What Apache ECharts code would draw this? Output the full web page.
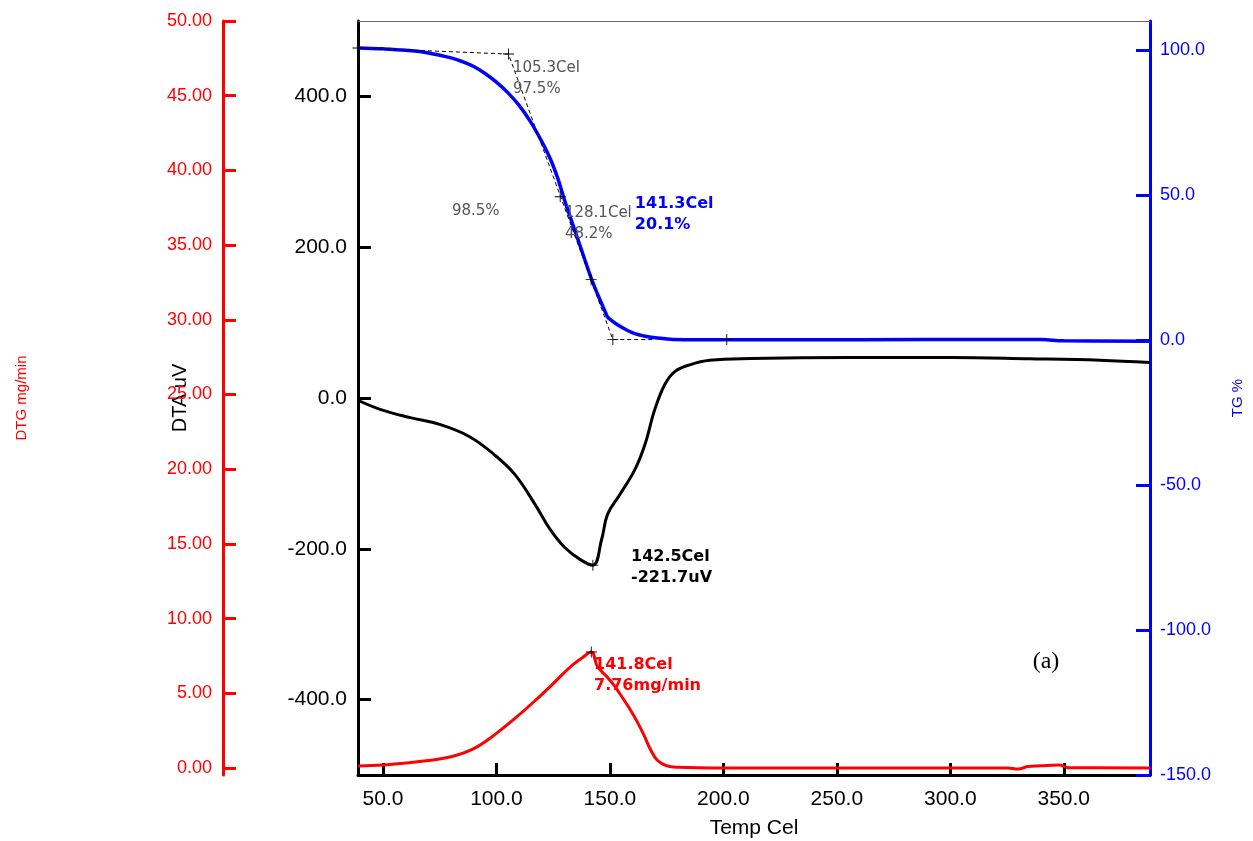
<!DOCTYPE html>
<html><head><meta charset="utf-8">
<script src="https://cdn.jsdelivr.net/npm/echarts@6/dist/echarts.min.js"></script>
<style>html,body{margin:0;padding:0;background:#fff}#c{width:1253px;height:841px}</style>
</head><body><div id="c"></div>
<script>
// ---- tick labels ----
const xTicks = [50, 100, 150, 200, 250, 300, 350];
const dtaTicks = [-400, -200, 0, 200, 400];
const dtgTicks = [0, 5, 10, 15, 20, 25, 30, 35, 40, 45, 50];
const tgTicks = [-150, -100, -50, 0, 50, 100];

// ---- TG curve (%) ----
const tgTemp  = [39, 50, 60, 70, 80, 85, 90, 95, 100, 105, 110, 115, 120, 124, 127, 130, 133, 136, 139, 142, 145, 148, 149, 151, 153, 157, 161, 165, 170, 178, 200, 260, 320, 340, 350, 388];
const tgValue = [100.7, 100.4, 99.9, 99.0, 97.3, 96.0, 94.3, 91.9, 88.9, 85.3, 80.9, 75.3, 68.4, 62.0, 55.8, 48.3, 41.3, 34.5, 27.6, 20.8, 15.0, 9.6, 7.9, 6.6, 5.4, 3.6, 2.2, 1.4, 0.8, 0.2, 0.1, 0.1, 0.2, 0.2, -0.3, -0.4];

// ---- DTA curve (uV) ----
const dtaTemp  = [39, 48.7, 62, 75, 88, 99, 108, 117, 123.6, 130, 136.8, 142.5, 146.4, 149, 154.4, 161, 165.4, 169.8, 174.2, 178.6, 185.2, 194, 212, 256, 300, 335, 366, 388];
const dtaValue = [-3, -15, -26, -35, -51, -75, -101, -141, -174, -198, -214, -221.7, -187, -154, -128, -95, -62, -15, 18, 35, 44, 50, 52.3, 53.6, 53.6, 52, 50, 47];

// ---- DTG curve (mg/min) ----
const dtgTemp  = [39, 50, 60, 70, 80, 90, 99, 108, 117, 124, 130, 134, 138, 141.8, 144.5, 148.7, 152, 156, 159, 162, 165, 168, 171, 175, 180, 200, 325, 330, 334, 340, 348, 352, 388];
const dtgValue = [0.13, 0.2, 0.33, 0.5, 0.75, 1.3, 2.2, 3.3, 4.5, 5.5, 6.4, 6.95, 7.4, 7.76, 6.8, 6.1, 5.5, 4.6, 3.9, 3.1, 2.2, 1.2, 0.5, 0.15, 0.05, 0.0, 0.0, -0.07, 0.1, 0.15, 0.2, 0.02, 0.0];

// ---- TG onset construction (dashed) ----
const tangentTemp  = [39, 105.3, 151.3, 170];
const tangentValue = [100.7, 98.6, 0.15, 0.15];

// ---- cross markers ----
const tgCrossTemp  = [39, 105.3, 128.1, 141.7, 151.3, 201.5];
const tgCrossValue = [100.7, 98.6, 49.4, 20.8, 0.15, 0.15];
const dtaCrossTemp = [142.5];
const dtaCrossValue = [-221.7];
const dtgCrossTemp = [141.8];
const dtgCrossValue = [7.76];

// ---- annotations ----
const annotText  = ['105.3Cel\n97.5%', '98.5%', '128.1Cel\n48.2%', '141.3Cel\n20.1%', '142.5Cel\n-221.7uV', '141.8Cel\n7.76mg/min', '(a)'];
const annotTemp  = [107.3, 80.4, 130.2, 161, 159.3, 143, 336.3];
const annotValue = [90.0, 44.5, 40.3, 43.4, -225, 6.2, -111];
const annotAxis  = [2, 2, 2, 2, 0, 1, 2];

const annotStyle = [
  {color:'#555555', fontFamily:'DejaVu Sans', fontSize:15, fontWeight:'normal', lineHeight:21},
  {color:'#555555', fontFamily:'DejaVu Sans', fontSize:15, fontWeight:'normal', lineHeight:21},
  {color:'#555555', fontFamily:'DejaVu Sans', fontSize:15, fontWeight:'normal', lineHeight:21},
  {color:'#0000FF', fontFamily:'DejaVu Sans', fontSize:16, fontWeight:'bold', lineHeight:21},
  {color:'#000000', fontFamily:'DejaVu Sans', fontSize:16, fontWeight:'bold', lineHeight:21},
  {color:'#FF0000', fontFamily:'DejaVu Sans', fontSize:16, fontWeight:'bold', lineHeight:21},
  {color:'#000000', fontFamily:'Liberation Serif', fontSize:24, fontWeight:'normal', lineHeight:26}
];

const zip = (a, b) => a.map((v, i) => [v, b[i]]);
const crossPath = 'path://M0,4.6H10V5.4H0Z M4.6,0H5.4V10H4.6Z';

const series = [
  {type:'line', name:'TG', xAxisIndex:0, yAxisIndex:2, data:zip(tgTemp, tgValue), smooth:0.4, showSymbol:false,
   lineStyle:{color:'#0000FF', width:3.5}, z:3},
  {type:'line', name:'DTA', xAxisIndex:0, yAxisIndex:0, data:zip(dtaTemp, dtaValue), smooth:0.4, showSymbol:false,
   lineStyle:{color:'#000', width:3}, z:3},
  {type:'line', name:'DTG', xAxisIndex:0, yAxisIndex:1, data:zip(dtgTemp, dtgValue), smooth:0.4, showSymbol:false,
   lineStyle:{color:'#FF0000', width:3}, z:3},
  {type:'line', name:'tangent', xAxisIndex:0, yAxisIndex:2, data:zip(tangentTemp, tangentValue), showSymbol:false,
   lineStyle:{color:'#000', width:1, type:[4,3]}, z:4},
  {type:'scatter', xAxisIndex:0, yAxisIndex:2, data:zip(tgCrossTemp, tgCrossValue), symbol:crossPath, symbolSize:11,
   itemStyle:{color:'#000', opacity:1}, z:5},
  {type:'scatter', xAxisIndex:0, yAxisIndex:0, data:zip(dtaCrossTemp, dtaCrossValue), symbol:crossPath, symbolSize:11,
   itemStyle:{color:'#000', opacity:1}, z:5},
  {type:'scatter', xAxisIndex:0, yAxisIndex:1, data:zip(dtgCrossTemp, dtgCrossValue), symbol:crossPath, symbolSize:11,
   itemStyle:{color:'#000', opacity:1}, z:5}
];

annotText.forEach((t, i) => {
  series.push({
    type:'scatter', xAxisIndex:0, yAxisIndex:annotAxis[i],
    data:[[annotTemp[i], annotValue[i]]], symbolSize:0, z:6, silent:true,
    itemStyle:{opacity:1},
    label:Object.assign({show:true, position:'right', distance:0, align:'left', opacity:1, textBorderWidth:0, formatter:t}, annotStyle[i])
  });
});

const chart = echarts.init(document.getElementById('c'), null, {renderer:'canvas'});
chart.setOption({
  animation:false,
  backgroundColor:'#fff',
  grid:{left:358, right:103, top:21, bottom:66, containLabel:false, outerBoundsMode:'none'},
  xAxis:[
    {type:'value', min:39, max:388, position:'bottom',
     axisLine:{show:true, onZero:false, lineStyle:{color:'#000', width:3}},
     axisTick:{show:true, inside:true, length:12, customValues:xTicks, lineStyle:{color:'#000', width:3}},
     axisLabel:{customValues:xTicks, formatter:v => v.toFixed(1), fontFamily:'Liberation Sans', fontSize:21, color:'#000', margin:14},
     splitLine:{show:false},
     name:'Temp Cel', nameLocation:'middle', nameGap:43,
     nameTextStyle:{fontFamily:'Liberation Sans', fontSize:21, color:'#000'}},
    {type:'value', min:39, max:388, position:'top',
     axisLine:{show:true, onZero:false, lineStyle:{color:'#666', width:1}},
     axisTick:{show:false}, axisLabel:{show:false}, splitLine:{show:false}}
  ],
  yAxis:[
    {type:'value', min:-500, max:500, position:'left',
     axisLine:{show:true, onZero:false, lineStyle:{color:'#000', width:3}},
     axisTick:{show:true, inside:true, length:13, customValues:dtaTicks, lineStyle:{color:'#000', width:3}},
     axisLabel:{customValues:dtaTicks, formatter:v => v.toFixed(1), fontFamily:'Liberation Sans', fontSize:21, color:'#000', margin:11},
     splitLine:{show:false},
     name:'DTA uV', nameLocation:'middle', nameRotate:90, nameGap:168,
     nameTextStyle:{fontFamily:'Liberation Sans', fontSize:20, color:'#000'}},
    {type:'value', min:-0.47, max:50, position:'left', offset:135,
     axisLine:{show:true, onZero:false, lineStyle:{color:'#FF0000', width:3}},
     axisTick:{show:true, inside:true, length:13, customValues:dtgTicks, lineStyle:{color:'#FF0000', width:3}},
     axisLabel:{customValues:dtgTicks, formatter:v => v.toFixed(2), fontFamily:'Liberation Sans', fontSize:18, color:'#FF0000', margin:11},
     splitLine:{show:false},
     name:'DTG mg/min', nameLocation:'middle', nameRotate:90, nameGap:194,
     nameTextStyle:{fontFamily:'Liberation Sans', fontSize:15, color:'#FF0000'}},
    {type:'value', min:-150, max:110, position:'right',
     axisLine:{show:true, onZero:false, lineStyle:{color:'#0000FF', width:3}},
     axisTick:{show:true, inside:true, length:14, customValues:tgTicks, lineStyle:{color:'#0000FF', width:3}},
     axisLabel:{customValues:tgTicks, formatter:v => v.toFixed(1), fontFamily:'Liberation Sans', fontSize:18, color:'#0000FF', margin:10},
     splitLine:{show:false},
     name:'TG %', nameLocation:'middle', nameRotate:90, nameGap:80,
     nameTextStyle:{fontFamily:'Liberation Sans', fontSize:15, color:'#0000FF'}}
  ],
  series:series
});
</script>
</body></html>
